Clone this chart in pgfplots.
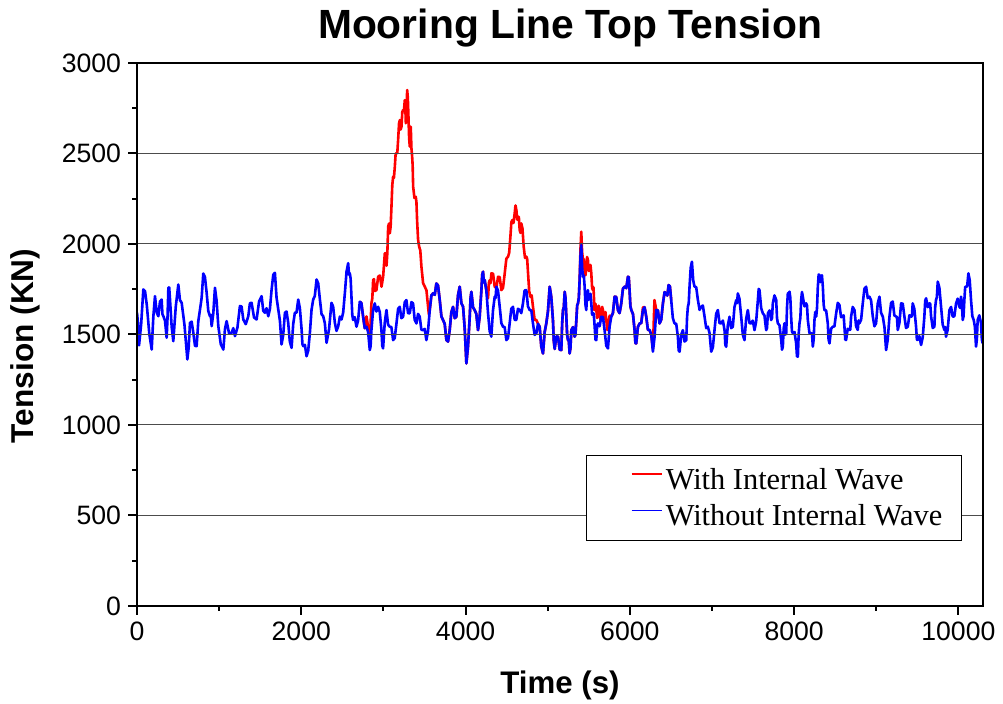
\documentclass[border=0pt]{standalone}
\usepackage{pgfplots}
\pgfplotsset{compat=1.18}
\usepackage{fontspec}
\setmainfont{Liberation Sans}
\newfontfamily\legfont{Liberation Serif}
\definecolor{myred}{RGB}{255,0,0}
\definecolor{myblue}{RGB}{0,0,255}
\begin{document}
\begin{tikzpicture}
\begin{axis}[
  scale only axis, width=423pt, height=271.5pt,
  xmin=0, xmax=10300, ymin=0, ymax=3000,
  xtick={0,2000,...,10000}, ytick={0,500,...,3000},
  scaled x ticks=false, scaled y ticks=false,
  minor x tick num=1, minor y tick num=1,
  tick align=outside, xtick pos=bottom, ytick pos=left,
  major tick length=4.5pt, minor tick length=2.5pt,
  every tick/.style={black, line width=1pt},
  ymajorgrids, major grid style={black!70, line width=0.5pt},
  axis line style={line width=0.6pt},
  axis on top,
  /pgf/number format/assume math mode=true,
  /pgf/number format/1000 sep={},
  tick label style={font=\fontsize{13.3}{16}\selectfont},
  title={Mooring Line Top Tension},
  title style={font=\bfseries\fontsize{20.4}{24}\selectfont, at={(axis description cs:0.5,1)}, anchor=base, xshift=5pt, yshift=6pt},
  xlabel={Time (s)},
  xlabel style={font=\bfseries\fontsize{15.6}{19}\selectfont, at={(axis description cs:0.5,-0.162)}, anchor=base},
  ylabel={Tension (KN)},
  ylabel style={font=\bfseries\fontsize{15.8}{19}\selectfont, at={(axis description cs:-0.122,0.479)}, anchor=base},
  legend style={at={(0.975,0.12)}, anchor=south east, draw=black, line width=0.5pt, fill=white,
    font=\legfont\fontsize{15.2}{18.5}\selectfont, inner xsep=0pt, inner ysep=6pt, row sep=6.1pt,
    nodes={inner xsep=1.75pt, inner ysep=0pt}},
  legend cell align=left,
  legend image code/.code={\path (-21.75pt,0pt); \draw[#1, line width=0.6pt] (0pt,3pt) -- (15pt,3pt);},
]
\coordinate (sw) at (rel axis cs:0,0);
\coordinate (ne) at (rel axis cs:1,1);
\addplot[color=myred, line width=1.3pt, line join=round] table {
2712 1681
2732 1674
2753 1598
2773 1535
2794 1600
2814 1540
2834 1480
2844 1560
2854 1672
2865 1700
2875 1801
2885 1806
2895 1740
2915 1745
2936 1819
2956 1826
2977 1764
2997 1821
3017 1948
3027 1949
3038 1880
3048 1953
3058 2096
3068 2113
3078 2059
3088 2097
3098 2206
3108 2324
3118 2372
3128 2365
3139 2427
3149 2499
3159 2501
3169 2503
3179 2574
3190 2665
3200 2685
3210 2632
3220 2648
3230 2729
3240 2740
3250 2733
3260 2795
3266 2766
3273 2667
3281 2724
3289 2851
3297 2812
3305 2703
3313 2586
3321 2538
3327 2628
3333 2648
3341 2530
3350 2482
3356 2435
3362 2317
3378 2254
3394 2261
3402 2232
3410 2132
3422 2024
3435 1985
3449 1965
3463 1874
3483 1784
3504 1764
3524 1744
3544 1653
3554 1609
3564 1635
3584 1716
3605 1727
3625 1719
3645 1782
3665 1771
3686 1690
3706 1600
3726 1580
3746 1559
3767 1469
3787 1461
3807 1524
3827 1623
3848 1653
3868 1590
3888 1598
3908 1716
3929 1764
3949 1673
3970 1653
3990 1531
4010 1340
4030 1434
4051 1598
4061 1702
4071 1736
4091 1650
4111 1635
4131 1614
4152 1524
4172 1599
4193 1745
4203 1831
4213 1847
4223 1789
4233 1801
4253 1744
4274 1700
4284 1785
4294 1800
4304 1784
4315 1838
4335 1836
4355 1764
4375 1757
4396 1819
4416 1817
4436 1745
4456 1757
4477 1838
4497 1919
4517 1930
4531 1950
4546 2040
4558 2121
4570 2132
4584 2116
4598 2169
4608 2213
4619 2187
4629 2134
4639 2151
4649 2149
4659 2077
4669 2061
4679 2114
4693 2085
4708 1985
4724 1923
4740 1930
4750 1919
4761 1838
4775 1739
4789 1709
4805 1716
4821 1653
4841 1582
4862 1580
4882 1559
4902 1543
4922 1434
4943 1395
4963 1513
4983 1561
5003 1627
5024 1764
5044 1707
5064 1580
5074 1465
5085 1420
5105 1489
5126 1488
5146 1416
5166 1414
5176 1559
5186 1635
5196 1650
5207 1736
5217 1702
5227 1598
5237 1498
5247 1469
5257 1467
5267 1395
5277 1424
5288 1524
5308 1541
5328 1488
5338 1499
5349 1580
5359 1661
5369 1672
5379 1701
5389 1801
5399 1970
5409 2068
5419 1955
5430 1911
5440 1916
5450 1850
5460 1827
5470 1874
5480 1928
5490 1911
5500 1851
5511 1860
5521 1884
5531 1838
5541 1757
5551 1745
5557 1762
5563 1709
5567 1637
5572 1635
5582 1670
5592 1635
5602 1591
5612 1617
5622 1659
5632 1630
5642 1580
5653 1600
5663 1653
5673 1635
5683 1582
5693 1598
5703 1624
5714 1580
5724 1525
5734 1540
5754 1604
5774 1598
5794 1618
5815 1709
5835 1707
5855 1635
5875 1618
5896 1672
5916 1753
5937 1764
5957 1756
5977 1819
5987 1817
5997 1745
6007 1655
6018 1635
6038 1614
6058 1524
6068 1452
6078 1451
6098 1541
6119 1561
6139 1563
6160 1650
6180 1651
6200 1598
6220 1526
6241 1524
6261 1499
6281 1420
6300 1690
6322 1635
6342 1633
6362 1561
6382 1581
6403 1672
6423 1734
6443 1727
6457 1715
6472 1773
6488 1766
6504 1690
};
\addlegendentry{With Internal Wave}
\addplot[color=myblue, line width=1.3pt, line join=round] table {
0 1620
12 1565
25 1440
51 1559
77 1749
98 1739
120 1660
150 1503
179 1417
199 1599
219 1712
240 1621
260 1601
280 1682
300 1693
310 1612
321 1601
341 1576
361 1482
371 1585
382 1758
392 1760
402 1693
422 1543
442 1463
472 1654
503 1776
523 1690
544 1675
578 1553
613 1362
629 1428
645 1564
665 1571
686 1509
706 1437
726 1436
746 1572
767 1638
787 1702
807 1837
827 1818
848 1730
868 1630
888 1601
898 1608
909 1546
929 1617
949 1758
969 1687
990 1546
1020 1446
1051 1417
1071 1530
1091 1574
1121 1506
1152 1509
1172 1535
1193 1491
1223 1539
1253 1657
1273 1655
1294 1583
1324 1557
1355 1601
1375 1673
1395 1675
1425 1594
1456 1583
1486 1682
1517 1712
1537 1631
1557 1620
1577 1645
1598 1601
1618 1640
1639 1749
1659 1830
1679 1841
1699 1704
1720 1638
1740 1576
1760 1445
1780 1497
1801 1620
1821 1627
1841 1564
1861 1460
1882 1426
1902 1558
1922 1620
1942 1621
1963 1693
1983 1645
2004 1528
2014 1447
2024 1436
2044 1443
2064 1380
2084 1409
2105 1509
2125 1636
2145 1693
2165 1713
2186 1804
2206 1783
2227 1693
2247 1612
2267 1601
2287 1562
2308 1454
2338 1529
2368 1675
2388 1654
2409 1564
2429 1520
2450 1546
2470 1599
2490 1583
2510 1621
2531 1730
2551 1847
2571 1894
2581 1831
2591 1838
2601 1808
2611 1709
2621 1609
2631 1580
2651 1596
2672 1543
2692 1577
2712 1681
2732 1674
2753 1598
2773 1535
2794 1543
2814 1513
2834 1414
2844 1434
2854 1524
2874 1633
2895 1672
2915 1627
2936 1653
2956 1623
2976 1524
2986 1438
2996 1423
3016 1564
3037 1635
3057 1554
3077 1543
3097 1541
3118 1469
3138 1480
3159 1561
3179 1642
3199 1653
3219 1590
3240 1598
3260 1679
3280 1690
3300 1618
3321 1617
3341 1679
3361 1672
3381 1581
3402 1561
3422 1614
3442 1598
3462 1526
3483 1524
3503 1531
3523 1469
3543 1517
3564 1635
3584 1716
3605 1727
3625 1719
3645 1782
3665 1771
3686 1690
3706 1600
3726 1580
3746 1559
3767 1469
3787 1461
3807 1524
3827 1623
3848 1653
3868 1590
3888 1598
3908 1716
3929 1764
3949 1673
3970 1653
3990 1531
4010 1340
4030 1434
4051 1598
4061 1702
4071 1736
4091 1650
4111 1635
4131 1614
4152 1524
4172 1599
4193 1745
4203 1831
4213 1847
4223 1789
4233 1801
4253 1744
4274 1617
4294 1517
4314 1488
4334 1633
4355 1709
4365 1701
4375 1764
4395 1743
4416 1653
4436 1563
4456 1543
4476 1541
4497 1469
4517 1480
4537 1561
4557 1642
4578 1653
4598 1581
4618 1580
4638 1642
4659 1635
4679 1618
4699 1672
4719 1743
4740 1745
4760 1655
4781 1635
4801 1633
4821 1561
4841 1498
4862 1506
4882 1559
4902 1543
4922 1434
4943 1395
4963 1513
4983 1561
5003 1627
5024 1764
5044 1707
5064 1580
5074 1465
5085 1420
5105 1489
5126 1488
5146 1416
5166 1414
5176 1559
5186 1635
5196 1650
5207 1736
5217 1702
5227 1598
5237 1498
5247 1469
5257 1467
5267 1395
5277 1424
5288 1524
5308 1541
5328 1488
5338 1499
5349 1580
5359 1661
5369 1672
5379 1701
5389 1801
5399 1932
5409 1994
5419 1871
5430 1819
5440 1826
5450 1764
5460 1664
5470 1635
5480 1725
5490 1745
5500 1692
5511 1709
5521 1725
5531 1672
5541 1609
5551 1617
5561 1615
5572 1543
5582 1471
5592 1469
5602 1550
5612 1561
5632 1545
5653 1598
5673 1596
5693 1524
5713 1438
5734 1423
5754 1545
5774 1598
5794 1618
5815 1709
5835 1707
5855 1635
5875 1618
5896 1672
5916 1753
5937 1764
5957 1756
5977 1819
5987 1817
5997 1745
6007 1655
6018 1635
6038 1614
6058 1524
6068 1452
6078 1451
6098 1541
6119 1561
6139 1563
6160 1635
6180 1651
6200 1598
6220 1526
6241 1524
6261 1499
6281 1405
6301 1485
6322 1635
6342 1633
6362 1561
6382 1581
6403 1672
6423 1734
6443 1727
6457 1715
6472 1773
6488 1766
6504 1690
6524 1590
6545 1561
6565 1559
6585 1488
6595 1411
6606 1405
6626 1499
6646 1524
6666 1461
6687 1469
6697 1596
6707 1653
6717 1673
6727 1764
6741 1868
6756 1902
6772 1798
6788 1764
6808 1762
6829 1690
6849 1636
6869 1653
6889 1660
6910 1598
6930 1535
6950 1543
6970 1509
6991 1405
7011 1429
7031 1524
7051 1614
7072 1635
7092 1563
7113 1561
7133 1577
7153 1524
7163 1443
7173 1432
7193 1550
7214 1598
7234 1535
7254 1543
7274 1651
7295 1690
7305 1673
7315 1727
7335 1697
7356 1598
7376 1498
7396 1469
7416 1587
7437 1635
7457 1563
7477 1561
7497 1577
7518 1524
7538 1572
7559 1690
7569 1752
7579 1745
7599 1646
7619 1617
7639 1605
7660 1524
7670 1535
7681 1617
7701 1633
7721 1580
7731 1591
7741 1672
7761 1716
7782 1691
7792 1591
7802 1562
7822 1551
7843 1470
7853 1416
7863 1433
7873 1532
7883 1562
7893 1499
7904 1507
7914 1652
7924 1728
7934 1697
7944 1737
7954 1703
7964 1599
7974 1518
7985 1507
8005 1514
8025 1451
8035 1379
8046 1378
8056 1505
8066 1562
8076 1591
8086 1691
8096 1735
8106 1709
8126 1655
8147 1672
8157 1661
8167 1580
8187 1508
8208 1507
8218 1505
8228 1433
8238 1471
8248 1580
8258 1625
8269 1599
8279 1646
8289 1764
8299 1831
8309 1829
8319 1789
8329 1820
8339 1827
8350 1764
8360 1664
8370 1635
8390 1633
8410 1562
8420 1471
8431 1451
8451 1532
8471 1543
8491 1545
8512 1617
8532 1675
8552 1663
8572 1596
8593 1599
8603 1606
8613 1543
8623 1471
8633 1470
8653 1532
8674 1525
8684 1527
8694 1599
8714 1652
8735 1635
8755 1545
8775 1525
8785 1578
8796 1562
8816 1582
8836 1672
8856 1753
8877 1764
8897 1701
8917 1709
8937 1689
8958 1599
8978 1545
8998 1562
9018 1670
9039 1709
9059 1619
9080 1599
9100 1541
9120 1414
9140 1471
9161 1599
9181 1675
9201 1682
9221 1605
9242 1599
9252 1597
9262 1525
9282 1563
9303 1672
9323 1670
9343 1599
9363 1536
9384 1543
9404 1606
9424 1599
9434 1600
9444 1672
9464 1642
9485 1543
9495 1471
9505 1470
9525 1491
9546 1442
9566 1485
9586 1599
9596 1685
9607 1700
9627 1651
9647 1672
9657 1670
9668 1599
9688 1536
9708 1543
9718 1652
9728 1691
9738 1706
9749 1792
9769 1758
9789 1654
9809 1555
9830 1525
9840 1541
9850 1488
9870 1527
9891 1635
9911 1652
9931 1599
9951 1600
9972 1672
9992 1698
10012 1654
10022 1647
10032 1709
10042 1680
10053 1580
10063 1601
10073 1691
10083 1763
10093 1764
10107 1766
10122 1838
10138 1800
10154 1691
10170 1601
10187 1580
10201 1542
10215 1433
10225 1472
10235 1580
10255 1606
10276 1562
10286 1472
10296 1451
};
\addlegendentry{Without Internal Wave\hspace*{7.75pt}}
\draw[black, line width=1pt] (rel axis cs:0,1) -- (rel axis cs:0,0) -- (rel axis cs:1,0);
\end{axis}
\pgfresetboundingbox
\path[use as bounding box] ([xshift=-68.5pt,yshift=-49pt]sw) rectangle ([xshift=10pt,yshift=31.5pt]ne);
\end{tikzpicture}
\end{document}
